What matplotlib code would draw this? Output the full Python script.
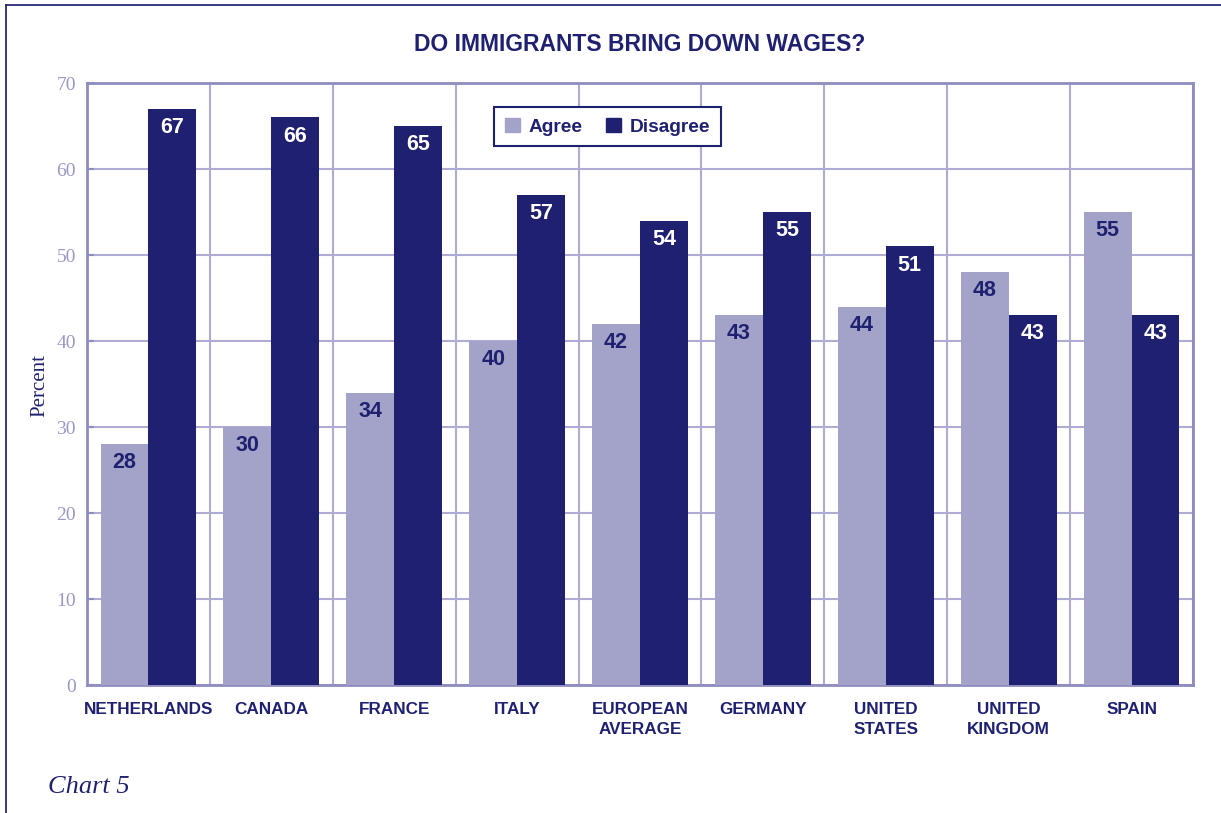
import matplotlib.pyplot as plt
import numpy as np
from matplotlib.lines import Line2D
from matplotlib.patches import Patch

countries = ["NETHERLANDS", "CANADA", "FRANCE", "ITALY", "EUROPEAN\nAVERAGE",
             "GERMANY", "UNITED\nSTATES", "UNITED\nKINGDOM", "SPAIN"]
agree = [28, 30, 34, 40, 42, 43, 44, 48, 55]
disagree = [67, 66, 65, 57, 54, 55, 51, 43, 43]
yticks = [0, 10, 20, 30, 40, 50, 60, 70]

navy = "#1f2170"
lilac = "#a3a2c8"
frame_col = "#8e8cc0"
grid_col = "#aeacd2"
tick_col = "#9a98c6"

sans = ["Liberation Sans", "DejaVu Sans"]
serif = ["Liberation Serif", "DejaVu Serif"]

fig = plt.figure(figsize=(12.21, 8.13), dpi=100)
ax = fig.add_axes([87 / 1221, 1 - 685 / 813, 1106 / 1221, 602 / 813])

x = np.arange(len(countries))
w = 0.39
b1 = ax.bar(x - w / 2, agree, w, color=lilac, zorder=3, label="Agree")
b2 = ax.bar(x + w / 2, disagree, w, color=navy, zorder=3, label="Disagree")

# value labels just inside the top of each bar
for bars, vals, col in ((b1, agree, navy), (b2, disagree, "white")):
    for rect, v in zip(bars, vals):
        ax.annotate(f"{v}", (rect.get_x() + rect.get_width() / 2, v),
                    xytext=(0, -13.5), textcoords="offset points",
                    ha="center", va="center", color=col, fontsize=15.5,
                    fontweight="bold", family=sans, zorder=4)

ax.set_xlim(-0.5, len(countries) - 0.5)
ax.set_ylim(0, 70)
ax.set_yticks(yticks)
ax.set_yticklabels([str(t) for t in yticks], family=serif, fontsize=14,
                   color=tick_col)
ax.tick_params(axis="y", direction="in", length=5, width=1.5,
               color=frame_col, pad=8)

ax.set_xticks(x)
ax.set_xticklabels(countries, family=sans, fontsize=12.3, fontweight="bold",
                   color=navy, linespacing=1.45, va="top")
ax.tick_params(axis="x", length=0, pad=12)

# category separators and horizontal gridlines
ax.set_xticks(np.arange(len(countries) + 1) - 0.5, minor=True)
ax.tick_params(axis="x", which="minor", length=0)
ax.grid(True, which="minor", axis="x", color=grid_col, lw=1.5, zorder=0)
ax.grid(True, which="major", axis="y", color=grid_col, lw=1.5, zorder=0)
ax.set_axisbelow(True)

for s in ax.spines.values():
    s.set_color(frame_col)
    s.set_linewidth(2)

ax.set_title("DO IMMIGRANTS BRING DOWN WAGES?", family=sans, fontsize=16.5,
             fontweight="bold", color=navy, pad=23)

leg = ax.legend(handles=[Patch(color=lilac, label="Agree"),
                         Patch(color=navy, label="Disagree")],
                loc="upper left", bbox_to_anchor=(0.368, 0.960),
                borderaxespad=0, ncol=2, fancybox=False, framealpha=1,
                handlelength=0.8, handleheight=0.8, handletextpad=0.45,
                columnspacing=1.2, borderpad=0.55,
                prop={"family": sans, "weight": "bold", "size": 13.8})
leg.get_frame().set_edgecolor(navy)
leg.get_frame().set_linewidth(1.5)
for t in leg.get_texts():
    t.set_color(navy)
leg.set_zorder(5)

fig.text(40 / 1221, 1 - 385 / 813, "Percent", rotation=90, ha="center",
         va="center", family=serif, fontsize=15, color=navy)
fig.text(48 / 1221, 1 - 787 / 813, "Chart 5", ha="left", va="center",
         family=serif, style="italic", fontsize=19, color=navy)

# page rule along top and left edges
fig.add_artist(Line2D([5.5 / 1221, 1], [1 - 5.5 / 813, 1 - 5.5 / 813],
                      transform=fig.transFigure, color="#2a2a7a", lw=1.3))
fig.add_artist(Line2D([5.5 / 1221, 5.5 / 1221], [0, 1 - 5.5 / 813],
                      transform=fig.transFigure, color="#2a2a7a", lw=1.3))

fig.savefig("out.png", dpi=100)
